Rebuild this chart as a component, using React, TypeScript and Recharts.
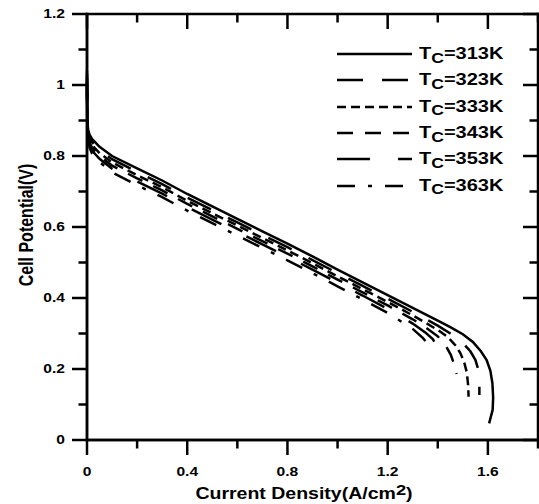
import React from 'react';
import { LineChart, Line, XAxis, YAxis } from 'recharts';

// cathode temperatures and their line styles
const temps = ['313K', '323K', '333K', '343K', '353K', '363K'];
const dashes = ['', '26 19', '9 5', '16 12', '33 28', '18 13 4 13'];

const xMajor = [0, 0.4, 0.8, 1.2, 1.6];
const xMinor = [0.2, 0.6, 1.0, 1.4, 1.8];
const yMajor = [0, 0.2, 0.4, 0.6, 0.8, 1, 1.2];
const yMinor = [0.1, 0.3, 0.5, 0.7, 0.9, 1.1];

// current density (A/cm2) / cell potential (V)
const i313 = [0, 0.001, 0.002, 0.005, 0.01, 0.02, 0.05, 0.1, 0.2, 0.3, 0.4, 0.5, 0.6, 0.7, 0.8, 0.9, 1.0, 1.1, 1.2, 1.3, 1.4, 1.45, 1.5, 1.54, 1.572, 1.595, 1.61, 1.618, 1.621, 1.619, 1.605];
const v313 = [1.04, 0.92, 0.89, 0.872, 0.86, 0.848, 0.826, 0.8, 0.765, 0.731, 0.693, 0.658, 0.623, 0.588, 0.553, 0.517, 0.48, 0.444, 0.408, 0.372, 0.336, 0.318, 0.298, 0.276, 0.25, 0.225, 0.195, 0.16, 0.12, 0.085, 0.047];

const i323 = [0, 0.001, 0.002, 0.005, 0.01, 0.02, 0.05, 0.1, 0.2, 0.3, 0.4, 0.5, 0.6, 0.7, 0.8, 0.9, 1.0, 1.1, 1.2, 1.3, 1.4, 1.45, 1.5, 1.53, 1.55, 1.561, 1.566, 1.566];
const v323 = [1.03, 0.91, 0.882, 0.864, 0.852, 0.839, 0.817, 0.791, 0.755, 0.721, 0.683, 0.648, 0.613, 0.578, 0.543, 0.507, 0.47, 0.434, 0.398, 0.361, 0.322, 0.3, 0.273, 0.25, 0.226, 0.2, 0.165, 0.127];

const i333 = [0, 0.001, 0.002, 0.005, 0.01, 0.02, 0.05, 0.1, 0.2, 0.3, 0.4, 0.5, 0.6, 0.7, 0.8, 0.9, 1.0, 1.1, 1.2, 1.3, 1.4, 1.44, 1.47, 1.49, 1.505, 1.516, 1.521, 1.523];
const v333 = [1.02, 0.905, 0.876, 0.857, 0.845, 0.831, 0.808, 0.782, 0.746, 0.712, 0.674, 0.639, 0.604, 0.569, 0.534, 0.498, 0.461, 0.425, 0.389, 0.351, 0.31, 0.29, 0.267, 0.245, 0.22, 0.19, 0.155, 0.122];

const i343 = [0, 0.001, 0.002, 0.005, 0.01, 0.02, 0.05, 0.1, 0.2, 0.3, 0.4, 0.5, 0.6, 0.7, 0.8, 0.9, 1.0, 1.1, 1.2, 1.3, 1.35, 1.4, 1.43, 1.452, 1.466, 1.475];
const v343 = [1.01, 0.9, 0.87, 0.85, 0.838, 0.823, 0.8, 0.773, 0.737, 0.703, 0.665, 0.63, 0.595, 0.56, 0.525, 0.489, 0.452, 0.416, 0.379, 0.34, 0.318, 0.292, 0.268, 0.24, 0.212, 0.186];

const i353 = [0, 0.001, 0.002, 0.005, 0.01, 0.02, 0.05, 0.1, 0.2, 0.3, 0.4, 0.5, 0.6, 0.7, 0.8, 0.9, 1.0, 1.1, 1.2, 1.3, 1.35, 1.38, 1.405, 1.42, 1.428];
const v353 = [1.0, 0.895, 0.865, 0.844, 0.831, 0.815, 0.792, 0.764, 0.728, 0.694, 0.656, 0.621, 0.586, 0.551, 0.516, 0.48, 0.443, 0.407, 0.369, 0.328, 0.303, 0.284, 0.256, 0.23, 0.206];

const i363 = [0, 0.001, 0.002, 0.005, 0.01, 0.02, 0.05, 0.1, 0.2, 0.3, 0.4, 0.5, 0.6, 0.7, 0.8, 0.9, 1.0, 1.1, 1.2, 1.3, 1.34, 1.36, 1.373];
const v363 = [0.99, 0.89, 0.86, 0.838, 0.824, 0.807, 0.783, 0.754, 0.718, 0.684, 0.646, 0.611, 0.576, 0.541, 0.506, 0.47, 0.433, 0.396, 0.358, 0.313, 0.288, 0.27, 0.249];

const curves = [[i313, v313], [i323, v323], [i333, v333], [i343, v343], [i353, v353], [i363, v363]];
const seriesData = curves.map(([xs, vs]) => xs.map((x, k) => ({ x, v: vs[k] })));

const xTicks = [...xMajor, ...xMinor].sort((a, b) => a - b);
const yTicks = [...yMajor, ...yMinor].sort((a, b) => a - b);

const FONT = '"Liberation Sans", Arial, Helvetica, sans-serif';
const MAJOR = 15;
const MINOR = 8.5;
const SW = 2.5;

// chart box: the plot area follows from these
const W = 539;
const H = 504;
const PLOT = { left: 87, right: 538, top: 14, bottom: 440 };
const X_MAX = 1.8;
const Y_MAX = 1.2;

const BottomTick = ({ x, y, payload }: any) =>
  xMajor.includes(payload.value) ? (
    <text transform={`translate(${x},${y + 36}) scale(1.3,1)`} textAnchor="middle"
      fontFamily={FONT} fontWeight="bold" fontSize={12} fill="#000">
      {String(payload.value)}
    </text>
  ) : <g />;

const LeftTick = ({ x, y, payload }: any) =>
  yMajor.includes(payload.value) ? (
    <text transform={`translate(${x - 22},${y + 4.3}) scale(1.3,1)`} textAnchor="end"
      fontFamily={FONT} fontWeight="bold" fontSize={12} fill="#000">
      {String(payload.value)}
    </text>
  ) : <g />;

const XTitle = () => (
  <text transform="translate(304,499) scale(1.22,1)" textAnchor="middle"
    fontFamily={FONT} fontWeight="bold" fontSize={16} fill="#000">
    Current Density(A/cm<tspan dy={-4} fontSize={15}>2</tspan><tspan dy={4}>)</tspan>
  </text>
);

const YTitle = () => (
  <text transform="translate(32.5,225) rotate(-90) scale(1,1.3)" textAnchor="middle"
    fontFamily={FONT} fontWeight="bold" fontSize={16} fill="#000">
    Cell Potential(V)
  </text>
);

// frame and tick marks (outward on bottom/left, inward on top/right)
const Frame = () => {
  const sx = (v: number) => PLOT.left + (v / X_MAX) * (PLOT.right - PLOT.left);
  const sy = (v: number) => PLOT.bottom - (v / Y_MAX) * (PLOT.bottom - PLOT.top);
  return (
    <svg width={W} height={H} style={{ position: 'absolute', left: 0, top: 0, pointerEvents: 'none' }}>
      <g stroke="#000" strokeWidth={SW}>
        <line x1={PLOT.left} y1={PLOT.top} x2={PLOT.right} y2={PLOT.top} strokeLinecap="square" />
        <line x1={PLOT.right} y1={PLOT.top} x2={PLOT.right} y2={PLOT.bottom} strokeLinecap="square" />
        <line x1={PLOT.left} y1={PLOT.top} x2={PLOT.left} y2={PLOT.bottom} strokeLinecap="square" />
        <line x1={PLOT.left} y1={PLOT.bottom} x2={PLOT.right} y2={PLOT.bottom} strokeLinecap="square" />
        {xTicks.map((v) => {
          const len = xMajor.includes(v) ? MAJOR : MINOR;
          return (
            <g key={`x${v}`}>
              <line x1={sx(v)} y1={PLOT.bottom} x2={sx(v)} y2={PLOT.bottom + len} />
              <line x1={sx(v)} y1={PLOT.top} x2={sx(v)} y2={PLOT.top + len} />
            </g>
          );
        })}
        {yTicks.map((v) => {
          const len = yMajor.includes(v) ? MAJOR : MINOR;
          return (
            <g key={`y${v}`}>
              <line x1={PLOT.left} y1={sy(v)} x2={PLOT.left - len} y2={sy(v)} />
              <line x1={PLOT.right} y1={sy(v)} x2={PLOT.right - len} y2={sy(v)} />
            </g>
          );
        })}
      </g>
    </svg>
  );
};

const LegendBox = () => (
  <div style={{ position: 'absolute', left: 337, top: 41, width: 190 }}>
    {temps.map((t, k) => (
      <div key={t} style={{ display: 'flex', alignItems: 'center', height: 26.3 }}>
        <svg width={75} height={26} style={{ display: 'block' }}>
          <line x1={0} y1={13} x2={75} y2={13} stroke="#000" strokeWidth={SW}
            strokeDasharray={dashes[k] || undefined} />
        </svg>
        <span style={{
          marginLeft: 6.5, display: 'inline-block', transform: 'scaleX(1.25)', transformOrigin: 'left center',
          fontFamily: FONT, fontWeight: 'bold', fontSize: 16, color: '#000', whiteSpace: 'nowrap',
        }}>
          T<span style={{ fontSize: 14, position: 'relative', top: 3.5 }}>C</span>={t}
        </span>
      </div>
    ))}
  </div>
);

export default function App() {
  return (
    <div style={{ position: 'absolute', left: 0, top: 0, width: W, height: H, background: '#fff' }}>
      <LineChart width={W} height={H}
        margin={{ top: PLOT.top, right: W - PLOT.right, left: 0, bottom: 0 }}>
        <XAxis dataKey="x" type="number" domain={[0, X_MAX]} ticks={xTicks} interval={0}
          height={H - PLOT.bottom} tickSize={0} tickMargin={0} tickLine={false} tick={BottomTick}
          axisLine={{ stroke: '#000', strokeWidth: SW }} label={<XTitle />} />
        <YAxis type="number" domain={[0, Y_MAX]} ticks={yTicks} interval={0}
          width={PLOT.left} tickSize={0} tickMargin={0} tickLine={false} tick={LeftTick}
          axisLine={{ stroke: '#000', strokeWidth: SW }} label={<YTitle />} />
        {temps.map((t, k) => (
          <Line key={t} name={t} data={seriesData[k]} dataKey="v" type="linear" stroke="#000"
            strokeWidth={SW} strokeDasharray={dashes[k] || undefined} dot={false} activeDot={false}
            isAnimationActive={false} />
        ))}
      </LineChart>
      <Frame />
      <LegendBox />
    </div>
  );
}
